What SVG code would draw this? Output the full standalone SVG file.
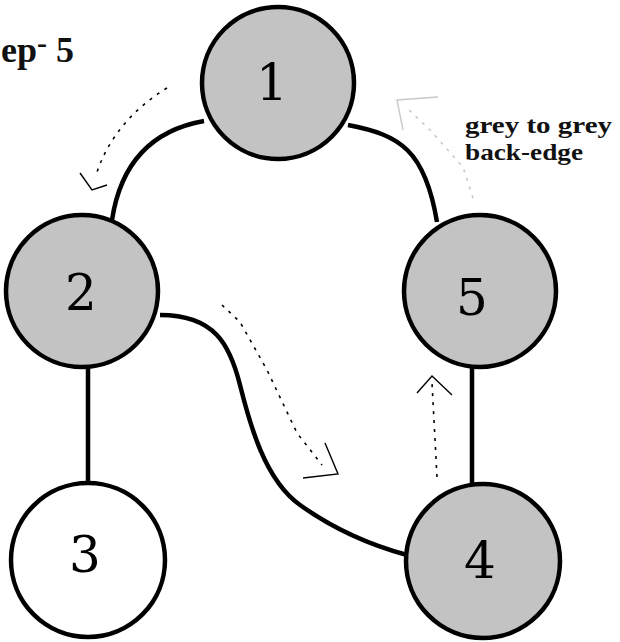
<svg xmlns="http://www.w3.org/2000/svg" width="620" height="642" viewBox="0 0 620 642">
<style>
.node circle{stroke:#000;stroke-width:4.5}
.g{fill:#c3c3c3}
.w{fill:#fff}
.lbl{font-family:"DejaVu Serif","Liberation Serif",serif;font-size:50px;text-anchor:middle;fill:#000}
.edge{fill:none;stroke:#000;stroke-width:4.5}
.dot{fill:none;stroke:#000;stroke-width:1.6;stroke-dasharray:3 6}
.head{fill:none;stroke:#000;stroke-width:1.4}
.grey{stroke:#c8c8c8}
.note{font-family:"Liberation Serif",serif;font-weight:bold;font-size:24px;fill:#111}
</style>
<rect width="620" height="642" fill="#fff"/>
<g id="connectors">
<path class="edge" d="M204,121 Q125,135 112,220"/>
<path class="edge" d="M348,125 C400,135 425,150 437,222"/>
<path class="edge" d="M88,367 L88,484"/>
<path class="edge" d="M160,315 C215,315 230,345 240,385 S265,480 300,505 S370,545 407,555"/>
<path class="edge" d="M472,367 L472,486"/>
</g>
<g id="traversal">
<path class="dot" d="M167,88 Q115,120 97,172"/>
<polyline class="head" points="80,173 92,190 107,185"/>
<path class="dot" d="M222,305 L240,322 L267,370 L297,433 L322,465"/>
<polyline class="head" points="325,443 338,474 303,478"/>
<path class="dot" d="M437,477 L432,383"/>
<polyline class="head" points="417,393 432,376 452,395"/>
<path class="dot grey" d="M473,198 L463,167 L430,130 L407,108"/>
<polyline class="head grey" points="403,130 397,100 438,97"/>
</g>
<g id="n1" class="node"><circle class="g" cx="278" cy="83" r="76"/><text class="lbl" x="272" y="100">1</text></g>
<g id="n2" class="node"><circle class="g" cx="82" cy="291" r="76"/><text class="lbl" x="81" y="310">2</text></g>
<g id="n3" class="node"><circle class="w" cx="88" cy="560" r="77"/><text class="lbl" x="85" y="572">3</text></g>
<g id="n4" class="node"><circle class="g" cx="483" cy="561" r="77"/><text class="lbl" x="480" y="578">4</text></g>
<g id="n5" class="node"><circle class="g" cx="480" cy="291" r="76"/><text class="lbl" x="472" y="315">5</text></g>
<g id="labels">
<text x="1" y="62" style="font-family:'Liberation Serif',serif;font-weight:bold;font-size:36px;fill:#111">ep<tspan dy="-9" font-size="30">-</tspan><tspan dy="9"> 5</tspan></text>
<text class="note" x="465" y="133" textLength="147" lengthAdjust="spacingAndGlyphs">grey to grey</text>
<text class="note" x="465" y="160" textLength="118" lengthAdjust="spacingAndGlyphs">back-edge</text>
</g>
</svg>
